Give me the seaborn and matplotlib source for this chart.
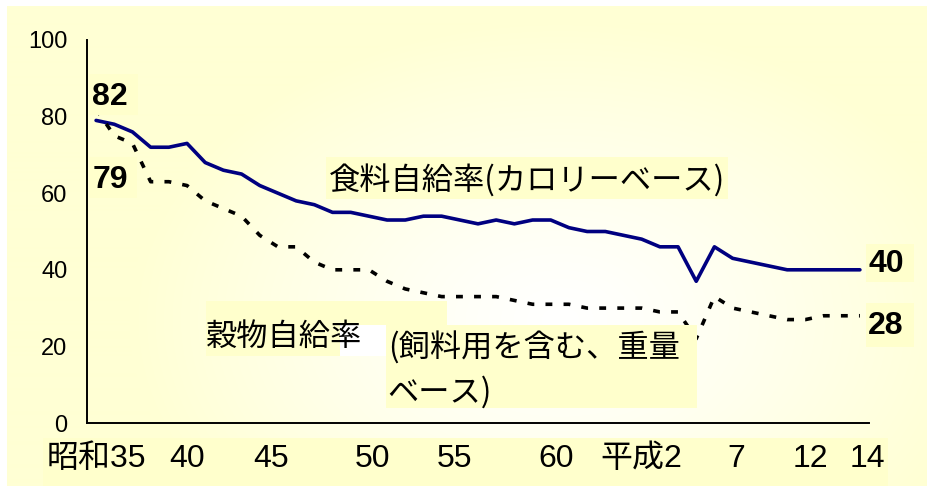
import numpy as np
import pandas as pd
import matplotlib
matplotlib.use("Agg")
import matplotlib.pyplot as plt
from matplotlib.patches import Rectangle
import seaborn as sns

# ---- data ----
years = list(range(1960, 2003))
calorie_rate = [79, 78, 76, 72, 72, 73, 68, 66, 65, 62,
                60, 58, 57, 55, 55, 54, 53, 53, 54, 54,
                53, 52, 53, 52, 53, 53, 51, 50, 50, 49,
                48, 46, 46, 37, 46, 43, 42, 41, 40, 40,
                40, 40, 40]
grain_rate = [82, 75, 73, 63, 63, 62, 58, 56, 54, 49,
              46, 46, 42, 40, 40, 40, 37, 35, 34, 33,
              33, 33, 33, 32, 31, 31, 31, 30, 30, 30,
              30, 29, 29, 22, 33, 30, 29, 28, 27, 27,
              28, 28, 28]
tick_labels = ["昭和35", "40", "45", "50", "55", "60", "平成2", "7", "12", "14"]
yticks = [0, 20, 40, 60, 80, 100]
calorie_name = "食料自給率(カロリーベース)"
grain_name = "穀物自給率"
grain_note = ["(飼料用を含む、重量", "ベース)"]

# where the year labels sit along the axis (hand placed, slightly uneven)
label_pos = [1960, 1965, 1969.6, 1975.2, 1979.7, 1985.3, 1990, 1995.2, 1999.3, 2002.4]

df = pd.DataFrame({"year": years, "calorie": calorie_rate, "grain": grain_rate})

sns.set_theme(style="white")
plt.rcParams["font.family"] = ["Liberation Sans", "Noto Sans CJK JP", "DejaVu Sans"]
CJK = ["Noto Sans CJK JP", "DejaVu Sans"]

W, H = 928, 486
fig = plt.figure(figsize=(W / 100, H / 100), dpi=100)


def fx(x):
    return x / W


def fy(y):
    return 1 - y / H


def box(x0, y0, x1, y1, color, z):
    fig.add_artist(Rectangle((fx(x0), fy(y1)), (x1 - x0) / W, (y1 - y0) / H,
                             transform=fig.transFigure, facecolor=color,
                             edgecolor="none", zorder=z))


# soft yellow background, lighter towards the middle
bg = fig.add_axes([0, 0, 1, 1], zorder=-2)
yy, xx = np.mgrid[0:H, 0:W]
d = np.sqrt(((xx - 560) / 430.0) ** 2 + ((yy - 320) / 300.0) ** 2)
t = np.clip(d, 0, 1) ** 1.2
edge = np.array([255, 255, 212]) / 255.0
img = (1 - t)[..., None] * np.ones(3) + t[..., None] * edge
img[:7, :] = 1.0
img[:, :7] = 1.0
bg.imshow(img, aspect="auto", extent=(0, 1, 0, 1), interpolation="bilinear")
bg.axis("off")

# band behind the year labels
box(43, 438, 888, 486, "#FFFFCC", -1)

ax = fig.add_axes([fx(87), fy(423), (869 - 87) / W, (423 - 40) / H], zorder=0)
ax.patch.set_alpha(0)

sns.lineplot(data=df, x="year", y="calorie", ax=ax, color="#000080",
             linewidth=2.6, legend=False)
sns.lineplot(data=df, x="year", y="grain", ax=ax, color="black",
             linewidth=2.6, linestyle=(0, (1.9, 3.1)), legend=False)

ax.set_xlim(1959.5, 2002.5)
ax.set_ylim(0, 100)
ax.set_xlabel("")
ax.set_ylabel("")

for s in ["top", "right"]:
    ax.spines[s].set_visible(False)
for s in ["left", "bottom"]:
    ax.spines[s].set_color("black")
    ax.spines[s].set_linewidth(1.4)

ax.set_yticks(yticks)
ax.set_yticklabels([str(v) for v in yticks])
ax.tick_params(axis="y", direction="in", length=6.5, width=1.3, pad=14,
               labelsize=17, colors="black")

ax.set_xticks(label_pos)
ax.set_xticklabels(tick_labels)
ax.set_xticks([y + 0.5 for y in range(1964, 2000, 5)], minor=True)
ax.tick_params(axis="x", which="major", length=0, pad=15, labelsize=23,
               colors="black")
ax.tick_params(axis="x", which="minor", direction="in", length=5, width=1.3,
               color="black")

# label boxes drawn over the lines
box(89, 74, 138, 115, "#FFFFCC", 1)
box(89, 157, 137, 198, "#FFFFCC", 1)
box(326, 157, 728, 199, "#FFFFCC", 1)
box(206, 301, 447, 356, "#FFFFCC", 1)
box(340, 325, 386, 356, "#FFFFFF", 1.1)
box(386, 325, 697, 408, "#FFFFCC", 1.2)
box(866, 244, 914, 282, "#FFFFCC", 1)
box(866, 303, 914, 347, "#FFFFCC", 1)

num_kw = dict(transform=fig.transFigure, fontsize=23, fontweight="bold",
              ha="center", va="center", color="black", zorder=2)
fig.text(fx(110), fy(97), str(grain_rate[0]), **num_kw)
fig.text(fx(110), fy(180), str(calorie_rate[0]), **num_kw)
fig.text(fx(886), fy(264), str(calorie_rate[-1]), **num_kw)
fig.text(fx(886), fy(326), str(grain_rate[-1]), **num_kw)

lab_kw = dict(transform=fig.transFigure, fontsize=22.5, ha="left",
              va="center", color="black", zorder=2, family=CJK)
fig.text(fx(329), fy(181), calorie_name, **lab_kw)
fig.text(fx(206), fy(337), grain_name, **lab_kw)
fig.text(fx(388), fy(348), grain_note[0], **lab_kw)
fig.text(fx(387), fy(392), grain_note[1], **lab_kw)

fig.savefig("out.png", dpi=100)
